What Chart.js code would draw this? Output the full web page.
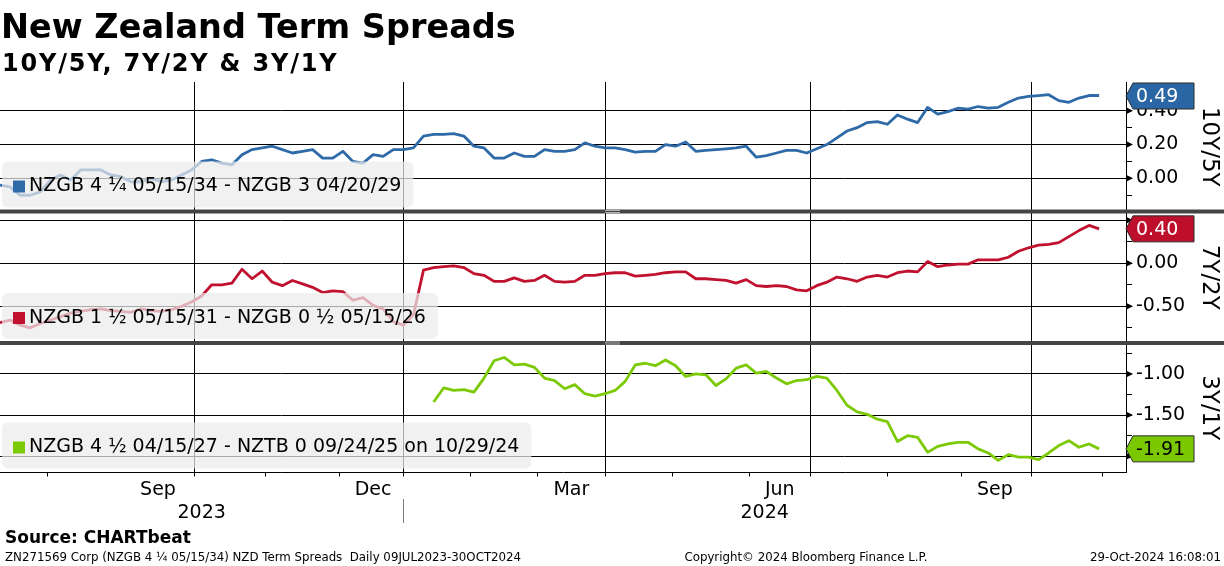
<!DOCTYPE html>
<html lang="en">
<head>
  <meta charset="UTF-8">
  <title>New Zealand Term Spreads</title>
  <script src="https://cdn.jsdelivr.net/npm/chart.js"></script>
  <style>
    html, body {
      margin: 0;
      padding: 0;
      background: #ffffff;
      width: 1224px;
      height: 566px;
      overflow: hidden;
      font-family: 'DejaVu Sans', sans-serif;
      color: #000;
    }

    .wrap {
      position: relative;
      width: 1224px;
      height: 566px;
    }

    canvas {
      position: absolute;
      left: 0;
      top: 0;
    }

    .title {
      position: absolute;
      left: 1px;
      top: 10px;
      font-size: 33.5px;
      line-height: 1;
      font-weight: bold;
    }

    .subtitle {
      position: absolute;
      left: 2px;
      top: 51px;
      font-size: 24px;
      line-height: 1;
      font-weight: bold;
      letter-spacing: 1.8px;
    }

    .source {
      position: absolute;
      left: 5px;
      top: 529px;
      font-size: 17px;
      line-height: 1;
      font-weight: bold;
    }

    .foot {
      position: absolute;
      top: 552px;
      font-size: 11.8px;
      line-height: 1;
      white-space: pre;
    }
  </style>
</head>
<body>
  <div class="wrap">
    <canvas id="chart" width="1224" height="566"></canvas>
    <div class="title">New Zealand Term Spreads</div>
    <div class="subtitle">10Y/5Y, 7Y/2Y &amp; 3Y/1Y</div>
    <div class="source">Source: CHARTbeat</div>
    <div class="foot" style="left:5px">ZN271569 Corp (NZGB 4 ¼ 05/15/34) NZD Term Spreads  Daily 09JUL2023-30OCT2024</div>
    <div class="foot" style="left:806px; transform:translateX(-50%)">Copyright© 2024 Bloomberg Finance L.P.</div>
    <div class="foot" style="right:3px">29-Oct-2024 16:08:01</div>
  </div>

  <script>
    // x is counted in NZ trading days from 12 Jul 2023; one reading every 3 days
    const step = 3;
    const xMax = 335;

    // month starts (trading-day index) and the quarter starts that get a gridline
    const monthTicks = [14, 58, 79, 101, 120, 140, 160, 180, 200, 223, 241, 264, 286, 307, 328];
    const quarterTicks = [58, 120, 180, 241, 307];
    const monthLabels = ['Sep', 'Dec', 'Mar', 'Jun', 'Sep'];
    const monthLabelAt = [47, 111, 170, 232, 296];
    const yearLabels = ['2023', '2024'];
    const yearBreaks = [0, 120, 335];

    // 10Y/5Y : NZGB 4 1/4 05/15/34 - NZGB 3 04/20/29
    const spread10y5y = [
      -0.04, -0.05, -0.10, -0.10, -0.08, -0.01, 0.02, -0.01, 0.05, 0.05,
      0.05, 0.02, 0.01, -0.02, -0.02, 0.00, -0.02, -0.01, 0.02, 0.05,
      0.10, 0.11, 0.09, 0.08, 0.14, 0.17, 0.18, 0.19, 0.17, 0.15,
      0.16, 0.17, 0.12, 0.12, 0.16, 0.10, 0.09, 0.14, 0.13, 0.17,
      0.17, 0.18, 0.25, 0.26, 0.26, 0.265, 0.25, 0.19, 0.18, 0.12,
      0.12, 0.15, 0.13, 0.13, 0.17, 0.16, 0.16, 0.17, 0.21, 0.19,
      0.18, 0.18, 0.17, 0.155, 0.16, 0.16, 0.20, 0.19, 0.215, 0.16,
      0.165, 0.17, 0.175, 0.18, 0.19, 0.125, 0.135, 0.15, 0.165, 0.165,
      0.15, 0.175, 0.20, 0.24, 0.28, 0.30, 0.33, 0.335, 0.32, 0.375,
      0.35, 0.33, 0.42, 0.38, 0.395, 0.415, 0.41, 0.425, 0.415, 0.42,
      0.45, 0.475, 0.485, 0.49, 0.495, 0.46, 0.45, 0.475, 0.49, 0.49
    ];

    // 7Y/2Y : NZGB 1 1/2 05/15/31 - NZGB 0 1/2 05/15/26
    const spread7y2y = [
      -0.69, -0.66, -0.72, -0.75, -0.70, -0.66, -0.62, -0.58, -0.56, -0.54,
      -0.53, -0.55, -0.56, -0.57, -0.53, -0.55, -0.56, -0.54, -0.50, -0.45,
      -0.38, -0.25, -0.25, -0.23, -0.07, -0.18, -0.09, -0.22, -0.26, -0.20,
      -0.24, -0.28, -0.34, -0.32, -0.33, -0.43, -0.40, -0.49, -0.53, -0.68,
      -0.72, -0.60, -0.08, -0.05, -0.04, -0.03, -0.05, -0.12, -0.14, -0.21,
      -0.21, -0.17, -0.21, -0.20, -0.14, -0.21, -0.22, -0.21, -0.14, -0.14,
      -0.12, -0.11, -0.11, -0.15, -0.14, -0.13, -0.11, -0.10, -0.10, -0.18,
      -0.18, -0.19, -0.20, -0.23, -0.19, -0.26, -0.27, -0.26, -0.27, -0.31,
      -0.32, -0.26, -0.22, -0.16, -0.18, -0.21, -0.16, -0.14, -0.16, -0.11,
      -0.09, -0.10, 0.02, -0.04, -0.02, -0.01, -0.01, 0.04, 0.04, 0.04,
      0.07, 0.14, 0.18, 0.21, 0.22, 0.24, 0.31, 0.38, 0.44, 0.40
    ];

    // 3Y/1Y : NZGB 4 1/2 04/15/27 - NZTB 0 09/24/25, starts at trading day 129
    const spread3y1yStart = 129;
    const spread3y1y = [
      -1.34, -1.17, -1.20, -1.19, -1.22, -1.05, -0.84, -0.80, -0.89, -0.88,
      -0.92, -1.05, -1.08, -1.18, -1.13, -1.24, -1.27, -1.24, -1.20, -1.09,
      -0.89, -0.87, -0.90, -0.83, -0.90, -1.03, -1.00, -1.01, -1.14, -1.06,
      -0.93, -0.89, -0.99, -0.97, -1.05, -1.12, -1.08, -1.07, -1.03, -1.05,
      -1.20, -1.38, -1.46, -1.49, -1.55, -1.58, -1.82, -1.75, -1.77, -1.95,
      -1.88, -1.85, -1.83, -1.83, -1.91, -1.96, -2.05, -1.98, -2.01, -2.01,
      -2.04, -1.96, -1.87, -1.81, -1.89, -1.85, -1.91
    ];

    const panels = [
      { id: 'yTop', title: '10Y/5Y', legend: 'NZGB 4 ¼ 05/15/34 - NZGB 3 04/20/29',
        data: spread10y5y, start: 0, color: '#2e6aa8', badge: '#2b66a4', badgeText: '#ffffff',
        min: -0.196, max: 0.57, stepSize: 0.1, major: 0.2, weight: 129.5 },
      { id: 'yMid', title: '7Y/2Y', legend: 'NZGB 1 ½ 05/15/31 - NZGB 0 ½ 05/15/26',
        data: spread7y2y, start: 0, color: '#c0112e', badge: '#bd0f2c', badgeText: '#ffffff',
        min: -0.927, max: 0.602, stepSize: 0.25, major: 0.5, weight: 131.5 },
      { id: 'yBot', title: '3Y/1Y', legend: 'NZGB 4 ½ 04/15/27 - NZTB 0 09/24/25 on 10/29/24',
        data: spread3y1y, start: spread3y1yStart, color: '#7cca06', badge: '#7cc800', badgeText: '#000000',
        min: -2.197, max: -0.624, stepSize: 0.25, major: 0.5, weight: 129.5 }
    ];

    const isMajor = (v, major) => Math.abs(Math.round(v / major) * major - v) < 1e-6;
    const FONT = "'DejaVu Sans', sans-serif";

    const scales = {
      x: {
        type: 'linear',
        min: 0,
        max: xMax,
        afterBuildTicks: s => { s.ticks = monthTicks.map(v => ({ value: v })); },
        afterFit: s => { s.height = 93.5; },
        ticks: { display: false, autoSkip: false },
        border: { display: true, color: '#000', width: 1 },
        grid: {
          color: c => (c.tick && quarterTicks.includes(c.tick.value)) ? '#000' : 'rgba(0,0,0,0)',
          tickColor: '#000',
          tickLength: 4,
          lineWidth: 1
        }
      }
    };

    panels.forEach((p, k) => {
      scales[p.id] = {
        type: 'linear',
        position: 'right',
        stack: 'panels',
        stackWeight: p.weight,
        weight: k,
        min: p.min,
        max: p.max,
        afterFit: s => { s.width = 98; },
        border: { display: true, color: '#000', width: 1 },
        grid: {
          color: c => (c.tick && isMajor(c.tick.value, p.major)) ? '#000' : 'rgba(0,0,0,0)',
          tickColor: '#000',
          tickLength: 6
        },
        ticks: {
          stepSize: p.stepSize,
          includeBounds: false,
          autoSkip: false,
          padding: 4,
          color: '#000',
          font: { family: FONT, size: 19 },
          // a label squeezed against the top of its panel is not shown
          callback: v => (isMajor(v, p.major) && (p.max - v) / (p.max - p.min) > 0.1) ? v.toFixed(2) : ''
        }
      };
    });

    const datasets = panels.map(p => ({
      label: p.title,
      data: p.data.map((v, i) => ({ x: p.start + i * step, y: v })),
      yAxisID: p.id,
      borderColor: p.color,
      borderWidth: 2.8,
      borderJoinStyle: 'round',
      pointRadius: 0,
      tension: 0,
      fill: false
    }));

    const decor = {
      id: 'decor',
      afterDatasetsDraw(chart) {
        const ctx = chart.ctx;
        // translucent legend boxes over the lines
        panels.forEach(p => {
          const s = chart.scales[p.id];
          ctx.save();
          ctx.font = '19px ' + FONT;
          const tw = ctx.measureText(p.legend).width;
          const h = 46;
          const top = s.bottom - 50;
          ctx.fillStyle = 'rgba(236,236,236,0.72)';
          ctx.beginPath();
          ctx.roundRect(2, top, 29 + tw + 10, h, 6);
          ctx.fill();
          ctx.fillStyle = p.color;
          ctx.fillRect(13, top + h / 2 - 4, 12, 12);
          ctx.fillStyle = '#000';
          ctx.textBaseline = 'middle';
          ctx.fillText(p.legend, 29, top + h / 2 + 2);
          ctx.restore();
        });
      },
      afterDraw(chart) {
        const ctx = chart.ctx;
        const area = chart.chartArea;
        const x = chart.scales.x;
        ctx.save();

        panels.forEach((p, k) => {
          const s = chart.scales[p.id];

          // arrow marks on the labelled ticks
          ctx.fillStyle = '#000';
          s.ticks.forEach(t => {
            if (!isMajor(t.value, p.major)) return;
            const y = s.getPixelForValue(t.value);
            ctx.beginPath();
            ctx.moveTo(area.right, y - 3.5);
            ctx.lineTo(area.right + 7, y);
            ctx.lineTo(area.right, y + 3.5);
            ctx.closePath();
            ctx.fill();
          });

          // rotated panel title
          ctx.save();
          ctx.translate(1209, (s.top + s.bottom) / 2);
          ctx.rotate(Math.PI / 2);
          ctx.font = '23px ' + FONT;
          ctx.textAlign = 'center';
          ctx.textBaseline = 'middle';
          ctx.fillStyle = '#000';
          ctx.fillText(p.title, 0, 0);
          ctx.restore();

          // last value badge
          const last = p.data[p.data.length - 1];
          const h = 26;
          let cy = s.getPixelForValue(last);
          cy = Math.max(cy, area.top + h / 2 + 1);
          const x0 = area.right, x1 = area.right + 7, x2 = 1194;
          ctx.beginPath();
          ctx.moveTo(x0, cy);
          ctx.lineTo(x1, cy - h / 2);
          ctx.lineTo(x2, cy - h / 2);
          ctx.lineTo(x2, cy + h / 2);
          ctx.lineTo(x1, cy + h / 2);
          ctx.closePath();
          ctx.fillStyle = p.badge;
          ctx.fill();
          ctx.strokeStyle = '#2a2a2a';
          ctx.lineWidth = 1;
          ctx.stroke();
          ctx.fillStyle = p.badgeText;
          ctx.font = '19px ' + FONT;
          ctx.textAlign = 'left';
          ctx.textBaseline = 'middle';
          ctx.fillText(last.toFixed(2), x1 + 3, cy + 1);

          // dark separator between panels
          if (k < panels.length - 1) {
            const yb = s.bottom;
            ctx.fillStyle = '#444444';
            ctx.fillRect(0, yb - 2, 1224, 4);
            ctx.fillStyle = '#b0b0b0';
            ctx.fillRect(605, yb - 1.5, 15, 1);
            ctx.fillRect(605, yb + 0.5, 15, 1);
          }
        });

        // month and year labels under the axis
        ctx.fillStyle = '#000';
        ctx.font = '19px ' + FONT;
        ctx.textAlign = 'center';
        ctx.textBaseline = 'alphabetic';
        monthLabels.forEach((m, i) => {
          ctx.fillText(m, x.getPixelForValue(monthLabelAt[i]), 495);
        });
        yearLabels.forEach((yl, i) => {
          const cx = (x.getPixelForValue(yearBreaks[i]) + x.getPixelForValue(yearBreaks[i + 1])) / 2;
          ctx.fillText(yl, cx, 518);
        });
        for (let i = 1; i < yearBreaks.length - 1; i++) {
          const px = Math.round(x.getPixelForValue(yearBreaks[i])) + 0.5;
          ctx.strokeStyle = '#808080';
          ctx.lineWidth = 1;
          ctx.beginPath();
          ctx.moveTo(px, 499);
          ctx.lineTo(px, 523);
          ctx.stroke();
        }
        ctx.restore();
      }
    };

    new Chart(document.getElementById('chart'), {
      type: 'line',
      data: { datasets: datasets },
      options: {
        responsive: false,
        maintainAspectRatio: false,
        devicePixelRatio: 1,
        animation: false,
        layout: { padding: { top: 82, left: 0, right: 0, bottom: 0 } },
        plugins: {
          legend: { display: false },
          tooltip: { enabled: false }
        },
        scales: scales
      },
      plugins: [decor]
    });
  </script>
</body>
</html>
